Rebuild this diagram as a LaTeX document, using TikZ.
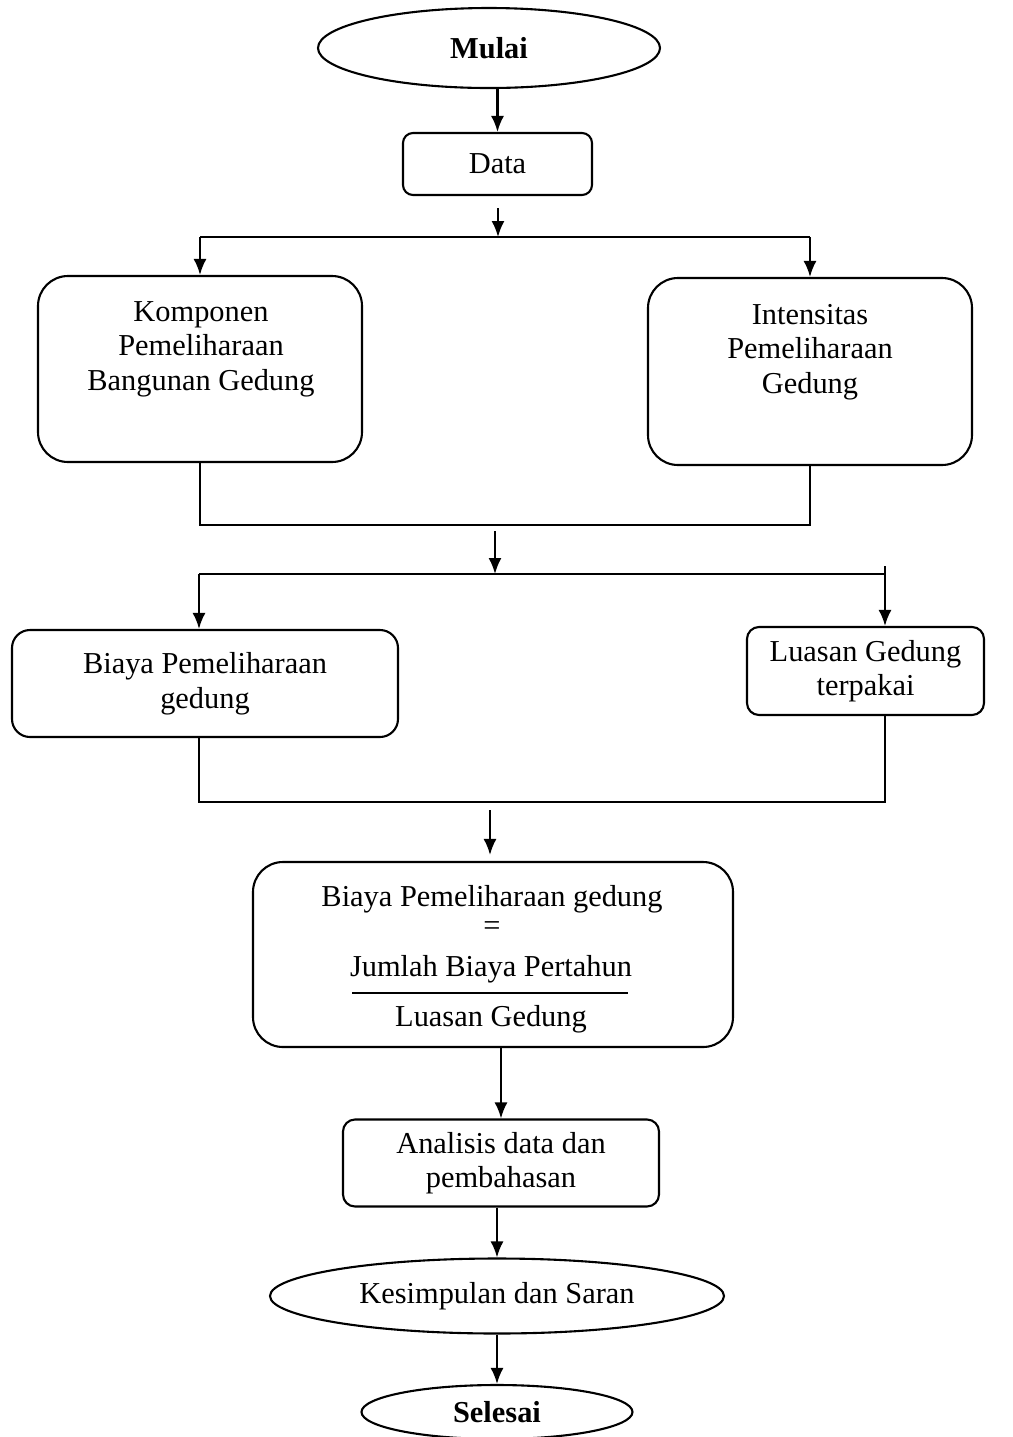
\documentclass[tikz,border=0pt]{standalone}
\usepackage{fontspec}
\setmainfont{Liberation Serif}
\usetikzlibrary{shapes.geometric,arrows.meta,positioning}

\begin{document}
\begin{tikzpicture}[x=0.5pt, y=-0.5pt, font=\fontsize{15.2}{17.25}\selectfont, line width=1.05pt]
% Define styles
\tikzstyle{terminal} = [ellipse, draw=black, inner sep=0pt]
\tikzstyle{process} = [rectangle, draw=black, align=center, inner sep=0pt]
\tikzstyle{arrow} = [->, >={Latex[length=8pt,width=6.5pt]}]

\useasboundingbox (0,0) rectangle (1013,1437);

% Draw nodes
\node [terminal, minimum width=171pt, minimum height=40pt] (mulai) at (489,48) {\textbf{Mulai}};
\node [process, minimum width=94.5pt, minimum height=31pt, rounded corners=5pt] (data) at (497.5,164) {Data};
\node [process, minimum width=162pt, minimum height=93pt, rounded corners=15pt] (komp) at (200,369) {};
\node [align=center] (kompText) at (201,349) {Komponen\\Pemeliharaan\\Bangunan Gedung};
\node [process, minimum width=162pt, minimum height=93.5pt, rounded corners=15pt] (inten) at (810,371.5) {};
\node [align=center] (intenText) at (810,352) {Intensitas\\Pemeliharaan\\Gedung};
\node [process, minimum width=193pt, minimum height=53.5pt, rounded corners=9pt] (biaya) at (205,683.5) {Biaya Pemeliharaan\\gedung};
\node [process, minimum width=118.5pt, minimum height=44pt, rounded corners=6pt] (luas) at (865.5,671) {Luasan Gedung\\terpakai};
\node [process, minimum width=240pt, minimum height=92.5pt, rounded corners=15pt] (rumus) at (493,954.5) {};
\node (rumus1) at (492,899) {Biaya Pemeliharaan gedung};
\node (rumus2) at (492,929) {=};
\node (rumus3) at (491,969) {Jumlah Biaya Pertahun};
\node (rumus4) at (491,1019) {Luasan Gedung};
\node [process, minimum width=158pt, minimum height=43.5pt, rounded corners=6pt] (analisis) at (501,1163) {Analisis data dan\\pembahasan};
\node [terminal, minimum width=227pt, minimum height=37.5pt] (kes) at (497,1296) {Kesimpulan dan Saran};
\node [terminal, minimum width=135.5pt, minimum height=27pt] (sel) at (497,1412) {\textbf{Selesai}};

% Split and join points
\coordinate (s1) at (498,237);
\coordinate (s1l) at (200,237);
\coordinate (s1r) at (810,237);
\coordinate (j1) at (495,525);
\coordinate (s2) at (495,574);
\coordinate (s2l) at (199,574);
\coordinate (s2r) at (885,574);
\coordinate (j2) at (490,802);

% Draw arrows
\draw [arrow] (mulai.south -| data.north) -- (data.north);
\draw [arrow] ([yshift=-6pt]data.south -| s1) -- (s1);
\draw (s1l) -- (s1r);
\draw [arrow] (s1l) -- (komp.north);
\draw [arrow] (s1r) -- (inten.north);
\draw (komp.south) |- (j1) -| (inten.south);
\draw [arrow] ([yshift=-3pt]j1) -- (s2);
\draw (s2l) -- (s2r);
\draw [arrow] (s2l) -- (biaya.north -| s2l);
\draw [arrow] ([yshift=4pt]s2r) -- (luas.north -| s2r);
\draw (biaya.south -| s2l) |- (j2) -| (luas.south -| s2r);
\draw [arrow] ([yshift=-4pt]j2) -- ([yshift=3pt]rumus.north -| j2);
\draw (352,993) -- (628,993);
\draw [arrow] (rumus.south -| analisis.north) -- (analisis.north);
\draw [arrow] (analisis.south -| kes.north) -- (kes.north);
\draw [arrow] (kes.south) -- (sel.north);
\end{tikzpicture}
\end{document}
